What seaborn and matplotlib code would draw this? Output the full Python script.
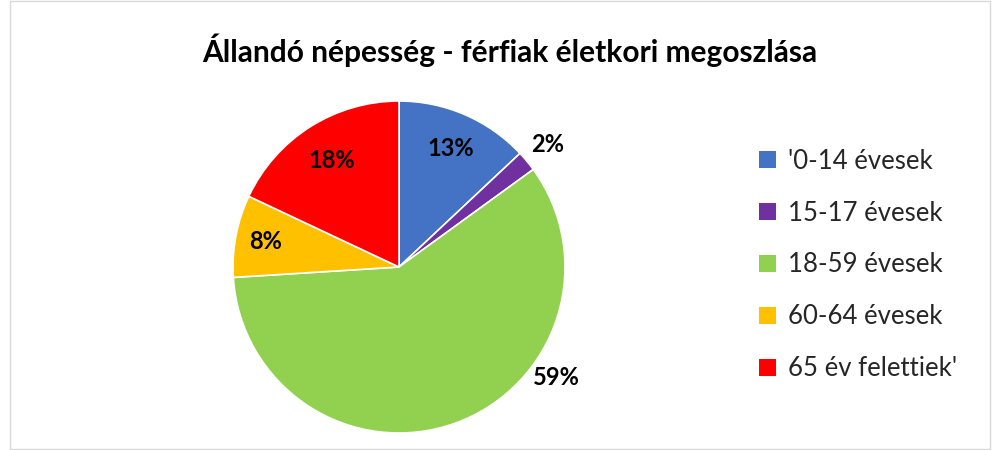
import matplotlib
matplotlib.use("Agg")
import matplotlib.pyplot as plt
import numpy as np
import seaborn as sns
from matplotlib.patches import Rectangle, Patch

sns.set_theme(style="white")
plt.rcParams['font.family'] = ['Lato', 'DejaVu Sans']

categories = ["'0-14 évesek", "15-17 évesek", "18-59 évesek", "60-64 évesek", "65 év felettiek'"]
values = [13, 2, 59, 8, 18]
colors = ["#4472C4", "#7030A0", "#92D050", "#FFC000", "#FF0000"]
title = "Állandó népesség - férfiak életkori megoszlása"

W, H = 1003, 450
fig = plt.figure(figsize=(W / 100, H / 100), dpi=100)

# chart border
fig.patches.append(Rectangle((10 / W, 1 / H), 980 / W, 448 / H, transform=fig.transFigure,
                             fill=False, edgecolor="#D9D9D9", linewidth=1))

cx, cy, r = 399, 267, 166
ax = fig.add_axes([(cx - r) / W, (H - cy - r) / H, 2 * r / W, 2 * r / H])
wedges, _ = ax.pie(values, colors=colors, startangle=90, counterclock=False,
                   wedgeprops=dict(edgecolor="white", linewidth=1.2))
ax.set_xlim(-1, 1)
ax.set_ylim(-1, 1)
ax.set_aspect("equal")

# label placement (radius factor, optional angle override)
label_r = [0.78, 1.16, 1.16, 0.82, 0.76]
label_ang = [None, None, -35, None, None]
total = sum(values)
start = 90.0
for i, v in enumerate(values):
    span = 360.0 * v / total
    mid = start - span / 2
    start -= span
    ang = label_ang[i] if label_ang[i] is not None else mid
    x = label_r[i] * np.cos(np.radians(ang))
    y = label_r[i] * np.sin(np.radians(ang))
    ax.text(x, y, f"{v}%", ha="center", va="center", fontsize=17,
            fontweight="bold", color="black", clip_on=False)

fig.text(510 / W, 1 - 50 / H, title, ha="center", va="center",
         fontsize=21.5, fontweight="bold", color="black")

handles = [Patch(facecolor=c, edgecolor="none") for c in colors]
fig.legend(handles, categories, loc="center left", bbox_to_anchor=(746 / W, 1 - 265 / H),
           frameon=False, fontsize=18.5, handlelength=0.65, handleheight=0.65,
           handletextpad=0.5, labelspacing=1.05, borderpad=0)

fig.savefig("out.png", dpi=100)
